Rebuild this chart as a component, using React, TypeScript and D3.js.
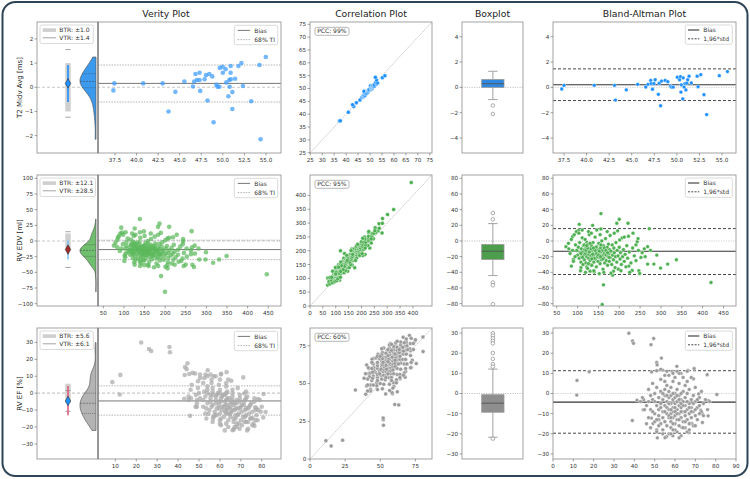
import React from "react";
import * as d3 from "d3";

const titles = ["Verity Plot", "Correlation Plot", "Boxplot", "Bland-Altman Plot"];
const rowLabels = ["T2 Midv Avg [ms]", "RV EDV [ml]", "RV EF [%]"];

// [mean, difference] pairs
const t2Pairs: [number, number][] = [
  [37.25, -0.13], [37.5, 0.16], [40.85, 0.16], [43.1, 0.16], [43.2, -1.0], [44.4, -0.19], [45.66, 0.24],
  [46.55, 0.03], [46.8, 0.24], [47.1, 0.55], [47.15, 0.3], [47.3, -0.15], [47.45, 0.3], [47.6, 0.6],
  [47.95, -0.55], [48.05, 0.33], [48.2, -1.45], [48.3, 0.5], [48.7, 0.55], [49.0, 0.45], [49.3, 0.1],
  [49.4, 0.02], [49.6, 0.02], [50.05, 0.8], [50.3, 0.6], [50.4, 0.85], [50.45, -0.37], [50.5, 0.2],
  [50.65, -0.9], [50.7, 0.75], [50.8, 0.02], [50.9, 0.3], [51.0, -0.2], [51.1, 0.33], [51.2, 0.6],
  [51.35, 0.88], [51.6, 0.35], [52.25, 0.88], [52.35, 0.05], [52.65, 1.0], [53.0, -0.58], [53.3, -2.15],
  [54.7, 0.92], [55.6, 1.25],
];

const edvPairs: [number, number][] = [
  [156, 35], [200, 27.7], [221, 22.6], [194, 22.6], [104, 21.3], [156, 15.3], [272, 15.7], [136, 20],
  [102, 13.6], [88, 5.5], [72, -7.3], [79, -10], [85, -32], [122, -1.7], [162, -56], [159, -81],
  [420, -53], [337, -24], [316, -29.5], [299, -34.6], [283, -29.5], [268, -29.5], [268, -7.3], [260, -10],
  [247, -38], [249, -41.5], [231, -37.6], [223, -32], [184, -43.6], [186, -38.5], [122, -33], [90, -23.5],
  [108, -34], [130, -38.5], [140, -39.7], [152, -41.8], [132, -30.4], [243, -0.9], [245, 3], [222, 6], [201, 1.3],
  [95, -5], [98, -12], [100, -18], [102, -8], [104, -22], [105, -2], [106, -15], [108, -27], [109, -10],
  [110, -20], [111, 4], [112, -14], [113, -30], [114, -6], [115, -18], [116, -24], [117, -11], [118, 2],
  [119, -16], [120, -28], [121, -8], [122, -20], [123, -13], [124, -35], [125, -4], [126, -22], [127, -17],
  [128, 8], [129, -10], [130, -25], [131, -14], [132, -19], [133, -6], [134, -31], [135, -12], [136, -21],
  [137, -2], [138, -16], [139, -27], [140, -9], [141, -18], [142, 5], [143, -23], [144, -13], [145, -33],
  [146, -7], [147, -19], [148, -15], [149, -26], [150, -11], [151, -3], [152, -21], [153, -17], [154, -29],
  [155, -9], [156, -14], [157, -24], [158, 0], [159, -19], [160, -12], [161, -36], [162, -6], [163, -22],
  [164, -16], [165, -28], [166, -10], [167, 3], [168, -18], [169, -25], [170, -14], [171, -8], [172, -31],
  [173, -20], [174, -4], [175, -16], [176, -26], [177, -11], [178, 7], [179, -21], [180, -13], [182, -30],
  [183, -5], [184, -18], [186, -24], [187, -9], [188, -15], [190, -34], [191, -20], [192, -2], [194, -27],
  [195, -12], [197, -19], [198, -36], [200, -8], [202, -23], [203, -15], [205, -30], [207, 4], [208, -20],
  [210, -11], [212, -26], [214, -17], [216, -33], [218, -6], [220, -22], [224, -14], [228, -28], [232, -9],
  [236, -19], [240, -25], [246, -12], [252, -21],
  [78, -3], [82, -16], [85, 2], [88, -12], [90, -26], [92, 8], [94, -20], [97, 12], [103, 10], [107, -38],
  [111, 14], [119, -40], [126, 12], [133, 10], [139, -38], [146, 14], [154, 8], [163, -40], [171, 12],
  [180, -41], [188, 10], [196, 13], [204, -38], [212, 5], [225, -40], [233, 10], [240, -5], [255, -15],
  [262, -20], [275, -12], [290, -18],
  [128, -14], [132, -10], [136, -17], [140, -22], [144, -8], [148, -20], [152, -13], [156, -5], [160, -23],
  [164, -9], [168, -12], [172, -15], [176, -21], [120, -12], [124, -9], [116, -5], [112, -21], [108, -16],
  [145, -16], [150, -18], [155, -20], [142, -12], [138, -9], [134, -23], [130, -3], [126, -29], [122, -6],
];

const efPairs: [number, number][] = [
  [37.3, 29.9], [39.1, 26.1], [39.6, 24.9], [48.2, 24.2], [49.5, 27.3], [11.8, 6.5], [11.7, -0.8], [17.8, 10.8],
  [39.0, -13.4], [41.3, -3.3], [44.6, -3.1], [44.3, -8.1], [53.3, 17.6], [51.0, 15.4], [51.2, 14.2], [51.0, 11.3],
  [48.5, 10.7], [53.9, 11.6], [58.6, 11], [60.9, 13.5], [66.3, 11.5], [69.1, 7.3], [69.4, 12.4], [75.8, 9.3],
  [80.6, -0.5], [76.5, -3.5], [71.6, -0.2], [72.7, -8.3], [73.4, -10], [73.5, -14.4], [76.3, -11.1], [68.3, -14.8],
  [67.4, -14.8], [58.9, -21], [55.9, -21.4], [55.1, -21.9], [51.3, -22], [51.0, -18], [49.2, -14.9], [48.4, -12.2],
  [63.3, -16.8], [66.8, -19.4],
  [46, -6], [47, -12], [47, 2], [48, -8], [48, -17], [49, -3], [49, 5], [50, -10], [50, -14], [50, 0], [51, -6],
  [51, -19], [51, 3], [52, -11], [52, -2], [52, -8], [53, -15], [53, 1], [53, -5], [53, 7], [54, -12], [54, -3],
  [54, -9], [54, -18], [55, -6], [55, 2], [55, -14], [55, -1], [55, 9], [56, -10], [56, -4], [56, -16], [56, -7],
  [56, 4], [57, -12], [57, -2], [57, -20], [57, -8], [57, 1], [58, -5], [58, -14], [58, -10], [58, 3], [58, -1],
  [58, -17], [59, -7], [59, -3], [59, -12], [59, 6], [59, -9], [60, -5], [60, -15], [60, 0], [60, -11], [60, -2],
  [60, 8], [61, -8], [61, -19], [61, -4], [61, -13], [61, 2], [62, -6], [62, -10], [62, -1], [62, -16], [62, 5],
  [63, -3], [63, -12], [63, -7], [63, -21], [63, 10], [64, -9], [64, -4], [64, -14], [64, 1], [65, -6], [65, -11],
  [65, -2], [65, -17], [65, 4], [66, -8], [66, -13], [66, 0], [66, 6], [67, -5], [67, -10], [67, -15], [67, 2],
  [68, -7], [68, -3], [68, -12], [68, 8], [69, -9], [69, -1], [69, -16], [70, -4], [70, -11], [70, 3], [71, -7],
  [71, -13], [72, -2], [72, -6], [73, -9], [73, 1], [74, -5], [74, -11], [75, -3], [76, -8], [77, -4],
  [50, -4], [52, -13], [54, 0], [55, -9], [56, -1], [57, -5], [58, -8], [59, -15], [59, 0], [60, -7], [61, -1],
  [61, -10], [62, -3], [62, -13], [63, 0], [63, -9], [64, -6], [64, -17], [65, -9], [66, -4], [66, -19], [67, -7],
  [68, -9], [69, -5], [70, -8], [71, -3], [72, -10], [57, -11], [58, -20], [60, -18], [53, -7], [51, -13], [49, -9],
  [48, -1], [46, -15], [47, -4], [45, -8], [44, -2], [43, -4], [57, 9], [62, 10], [64, 8], [66, 11], [59, 10],
  [55, 6], [61, 11], [53, 12], [56, 11], [65, -14], [67, -18], [70, -16], [62, -22], [59, -18], [54, -20],
  [52, -16], [58, -12], [60, -9], [63, -5],
];

const pairsByRow = [t2Pairs, edvPairs, efPairs];

// summary statistics
const verityBias = [0.16, -13.7, -4.6];
const tiLow = [-0.61, -29.7, -13.0];
const tiHigh = [0.92, 1.3, 4.3];
const btrValues = [1.0, 12.1, 5.6];
const vtrValues = [1.4, 28.5, 6.1];
const pccValues = [99, 95, 60];
const boxQ1 = [0.0, -23.7, -9.3];
const boxMedian = [0.29, -13.1, -4.8];
const boxQ3 = [0.62, -4.4, -0.6];
const whiskerLow = [-0.96, -44.1, -21.7];
const whiskerHigh = [1.27, 22.2, 12.1];
const boxOutliers = [
  [-1.43, -2.1],
  [35.7, 27.7, -53, -56.5, -80.7],
  [29.9, 28.7, 27.4, 26.1, 24.9, 20.1, 17.2, 14.6, 13.3, -22.4],
];
const baBias = [0.21, -13.2, -4.3];
const baUpper = [1.46, 15.8, 11.3];
const baLower = [-1.04, -42.8, -19.7];

// tick labels
const leftYTicks = [
  [-2, -1, 0, 1, 2],
  [-100, -75, -50, -25, 0, 25, 50, 75, 100],
  [-30, -20, -10, 0, 10, 20, 30],
];
const verityXTicks = [
  [37.5, 40, 42.5, 45, 47.5, 50, 52.5, 55],
  [50, 100, 150, 200, 250, 300, 350, 400, 450],
  [10, 20, 30, 40, 50, 60, 70, 80],
];
const corrTicks = [
  [25, 30, 35, 40, 45, 50, 55, 60, 65, 70, 75],
  [0, 50, 100, 150, 200, 250, 300, 350, 400],
  [0, 25, 50, 75],
];
const boxYTicks = [
  [-4, -2, 0, 2, 4],
  [-80, -60, -40, -20, 0, 20, 40, 60, 80],
  [-30, -20, -10, 0, 10, 20, 30],
];
const baXTicks = [
  [37.5, 40, 42.5, 45, 47.5, 50, 52.5, 55],
  [50, 100, 150, 200, 250, 300, 350, 400, 450],
  [0, 10, 20, 30, 40, 50, 60, 70, 80, 90],
];
const xTickFormats = [".1f", "d", "d"];

// axis ranges
const leftDomains = [[-2.72, 2.7], [-103.7, 105.3], [-38.9, 38.5]];
const verityDomains = [[35.53, 56.74], [37, 481], [1.7, 89.2]];
const corrDomains = [[24.9, 75.9], [0, 474], [0, 86.8]];
const boxDomains = [[-5.18, 5.16], [-83, 84.2], [-32.5, 32.5]];
const baDomains = [[36.28, 56.55], [41, 480], [0, 90]];

// colours
const pointColors = ["#1e90ff", "#4caf50", "#9a9a9a"];
const verityColors = ["#3d9cff", "#5cb85c", "#aaaaaa"];
const boxColors = ["#2f88e0", "#4c9e4c", "#8e8e8e"];
const violinColors = ["#3b99ee", "#6fbf6f", "#b3b3b3"];
const tiLineColors = ["#1e90ff", "#84c2f2", "#e25d7d"];
const markerColors = ["#1e90ff", "#a52a2a", "#1e90ff"];

const FONT = "DejaVu Sans, Verdana, sans-serif";
const ROW_TOP = [22, 175, 328];
const PH = 131;
const COL = { left: [37, 98], ver: [98, 281], corr: [310, 432], box: [462, 523], ba: [553, 736] };
const TICK_FS = 5.6;
const AX = "#999";

const fmtNum = (f: string) => (v: number) => d3.format(f)(v).replace("-", "\u2212");

function YTicks({ scale, ticks, x, fmt }: any) {
  return (
    <g>
      {ticks.map((t: number) => (
        <g key={t}>
          <line x1={x - 2.5} x2={x} y1={scale(t)} y2={scale(t)} stroke="#666" strokeWidth={0.6} />
          <text x={x - 3.8} y={scale(t)} dy="0.35em" textAnchor="end" fontSize={TICK_FS} fill="#333" fontFamily={FONT}>
            {fmt(t)}
          </text>
        </g>
      ))}
    </g>
  );
}

function XTicks({ scale, ticks, y, fmt }: any) {
  return (
    <g>
      {ticks.map((t: number) => (
        <g key={t}>
          <line x1={scale(t)} x2={scale(t)} y1={y} y2={y + 2.5} stroke="#666" strokeWidth={0.6} />
          <text x={scale(t)} y={y + 9} textAnchor="middle" fontSize={TICK_FS} fill="#333" fontFamily={FONT}>
            {fmt(t)}
          </text>
        </g>
      ))}
    </g>
  );
}

function Row({ i }: { i: number }) {
  const top = ROW_TOP[i];
  const bottom = top + PH;
  const pts = pairsByRow[i];
  const diffs = pts.map((p) => p[1]);
  const fx = fmtNum(xTickFormats[i]);
  const fy = fmtNum("d");

  const yL = d3.scaleLinear().domain(leftDomains[i]).range([bottom, top]);
  const xV = d3.scaleLinear().domain(verityDomains[i]).range(COL.ver);
  const xC = d3.scaleLinear().domain(corrDomains[i]).range(COL.corr);
  const yC = d3.scaleLinear().domain(corrDomains[i]).range([bottom, top]);
  const yB = d3.scaleLinear().domain(boxDomains[i]).range([bottom, top]);
  const xB = d3.scaleLinear().domain(baDomains[i]).range(COL.ba);

  // KDE for half violin
  const sorted = diffs.slice().sort(d3.ascending);
  const n = sorted.length;
  const sd = d3.deviation(sorted) || 1;
  const bw = sd * Math.pow(n, -0.2);
  const lo = sorted[0], hi = sorted[n - 1];
  const dens = (y: number) => d3.mean(sorted, (d) => Math.exp(-0.5 * ((y - d) / bw) ** 2)) as number;
  const grid = d3.range(121).map((k) => lo + ((hi - lo) * k) / 120);
  const dvals = grid.map((y) => ({ y, d: dens(y) }));
  const maxD = d3.max(dvals, (d) => d.d) as number;
  const base = 96, vw = 16;
  const vx = (d: number) => base - (d / maxD) * vw;
  const violinPath = d3
    .area<any>()
    .y((d) => yL(d.y))
    .x0(base)
    .x1((d) => vx(d.d))
    .curve(d3.curveBasis)(dvals) as string;
  const quarts = [0.25, 0.5, 0.75].map((q) => d3.quantile(sorted, q) as number);

  const ex = 68;
  const vb = verityBias[i];
  const diamond = d3.symbol(d3.symbolDiamond, 26)() as string;

  const boxX0 = 481.7, boxX1 = 504, boxC = (boxX0 + boxX1) / 2;

  const legendW = 53.3 + Math.max(0, `VTR: \u00b1${vtrValues[i]}`.length - 9) * 2.2;

  const clip = (k: string) => `url(#clip-${i}-${k})`;

  return (
    <g>
      <defs>
        <clipPath id={`clip-${i}-left`}><rect x={COL.left[0]} y={top} width={COL.ver[1] - COL.left[0]} height={PH} /></clipPath>
        <clipPath id={`clip-${i}-corr`}><rect x={COL.corr[0]} y={top} width={COL.corr[1] - COL.corr[0]} height={PH} /></clipPath>
        <clipPath id={`clip-${i}-box`}><rect x={COL.box[0]} y={top} width={COL.box[1] - COL.box[0]} height={PH} /></clipPath>
        <clipPath id={`clip-${i}-ba`}><rect x={COL.ba[0]} y={top} width={COL.ba[1] - COL.ba[0]} height={PH} /></clipPath>
      </defs>

      {/* y label */}
      <text
        transform={`translate(20,${top + PH / 2}) rotate(-90)`}
        textAnchor="middle"
        dy="0.35em"
        fontSize={7}
        fill="#222"
        fontFamily={FONT}
      >
        {rowLabels[i]}
      </text>

      {/* ---- left panel + verity ---- */}
      <g clipPath={clip("left")}>
        <line x1={COL.left[0]} x2={COL.ver[1]} y1={yL(0)} y2={yL(0)} stroke="#c8c8c8" strokeWidth={1.1} strokeDasharray="3,2" />
        {/* BTR bar */}
        <rect x={ex - 2.7} width={5.4} y={yL(btrValues[i])} height={yL(-btrValues[i]) - yL(btrValues[i])} fill="#cfcfcf" />
        {/* VTR caps */}
        {[vb + vtrValues[i], vb - vtrValues[i]].map((v, k) => (
          <line key={k} x1={ex - 2.6} x2={ex + 2.6} y1={yL(v)} y2={yL(v)} stroke="#9a9a9a" strokeWidth={0.9} />
        ))}
        {/* TI line */}
        <line x1={ex} x2={ex} y1={yL(tiHigh[i])} y2={yL(tiLow[i])} stroke={tiLineColors[i]} strokeWidth={1.6} />
        <path d={diamond} transform={`translate(${ex},${yL(vb)})`} fill={markerColors[i]} stroke="#333" strokeWidth={0.6} />
        {/* violin */}
        <path d={violinPath} fill={violinColors[i]} stroke="#555" strokeWidth={0.7} />
        {quarts.map((q, k) => (
          <line
            key={k}
            x1={vx(dens(q))}
            x2={base}
            y1={yL(q)}
            y2={yL(q)}
            stroke="#444"
            strokeWidth={0.5}
            strokeDasharray={k === 1 ? "2,1" : "1,1"}
          />
        ))}

        {/* verity lines */}
        <line x1={COL.ver[0]} x2={COL.ver[1]} y1={yL(tiHigh[i])} y2={yL(tiHigh[i])} stroke="#aaa" strokeWidth={0.9} strokeDasharray="1.5,1.2" />
        <line x1={COL.ver[0]} x2={COL.ver[1]} y1={yL(tiLow[i])} y2={yL(tiLow[i])} stroke="#aaa" strokeWidth={0.9} strokeDasharray="1.5,1.2" />
        <line x1={COL.ver[0]} x2={COL.ver[1]} y1={yL(vb)} y2={yL(vb)} stroke="#777" strokeWidth={1} />
        {pts.map((p, k) => (
          <circle key={k} cx={xV(p[0] - p[1] / 2)} cy={yL(p[1])} r={2.3} fill={verityColors[i]} fillOpacity={0.72} />
        ))}
      </g>
      <rect x={COL.left[0]} y={top} width={COL.left[1] - COL.left[0]} height={PH} fill="none" stroke={AX} strokeWidth={0.9} />
      <rect x={COL.ver[0]} y={top} width={COL.ver[1] - COL.ver[0]} height={PH} fill="none" stroke={AX} strokeWidth={0.9} />
      <line x1={COL.ver[0]} x2={COL.ver[0]} y1={top} y2={bottom} stroke="#777" strokeWidth={1} />
      <YTicks scale={yL} ticks={leftYTicks[i]} x={COL.left[0]} fmt={fy} />
      <XTicks scale={xV} ticks={verityXTicks[i]} y={bottom} fmt={fx} />

      {/* left legend */}
      <g fontFamily={FONT} fontSize={6} fill="#333">
        <rect x={40} y={top + 3} width={legendW} height={18.5} rx={1.5} fill="white" fillOpacity={0.85} stroke="#ccc" strokeWidth={0.7} />
        <rect x={42.7} y={top + 6.3} width={13.3} height={3.6} fill="#cfcfcf" />
        <text x={59.3} y={top + 8.1} dy="0.35em">{`BTR: \u00b1${btrValues[i].toFixed(1)}`}</text>
        <line x1={42.7} x2={56} y1={top + 15.8} y2={top + 15.8} stroke="#9a9a9a" strokeWidth={0.9} />
        <text x={59.3} y={top + 15.8} dy="0.35em">{`VTR: \u00b1${vtrValues[i].toFixed(1)}`}</text>
      </g>

      {/* verity legend */}
      <g fontFamily={FONT} fontSize={6} fill="#333">
        <rect x={234.3} y={top + 3.3} width={43.4} height={19.4} rx={1.5} fill="white" fillOpacity={0.85} stroke="#ccc" strokeWidth={0.7} />
        <line x1={237.7} x2={250} y1={top + 8.4} y2={top + 8.4} stroke="#777" strokeWidth={1} />
        <text x={254.3} y={top + 8.4} dy="0.35em">Bias</text>
        <line x1={237.7} x2={250} y1={top + 17.6} y2={top + 17.6} stroke="#aaa" strokeWidth={0.9} strokeDasharray="1.5,1.2" />
        <text x={254.3} y={top + 17.6} dy="0.35em">68% TI</text>
      </g>

      {/* ---- correlation ---- */}
      <g clipPath={clip("corr")}>
        <line
          x1={xC(corrDomains[i][0])}
          y1={yC(corrDomains[i][0])}
          x2={xC(corrDomains[i][1])}
          y2={yC(corrDomains[i][1])}
          stroke="#aaa"
          strokeWidth={0.6}
          strokeDasharray="2,0.8"
        />
        {pts.map((p, k) => (
          <circle key={k} cx={xC(p[0] + p[1] / 2)} cy={yC(p[0] - p[1] / 2)} r={2} fill={pointColors[i]} stroke="white" strokeWidth={0.4} />
        ))}
      </g>
      <rect x={COL.corr[0]} y={top} width={COL.corr[1] - COL.corr[0]} height={PH} fill="none" stroke={AX} strokeWidth={0.9} />
      <YTicks scale={yC} ticks={corrTicks[i]} x={COL.corr[0]} fmt={fy} />
      <XTicks scale={xC} ticks={corrTicks[i]} y={bottom} fmt={fy} />
      <g fontFamily={FONT} fontSize={6} fill="#333">
        <rect x={315} y={top + 5.3} width={34} height={8} rx={1.8} fill="white" stroke="#999" strokeWidth={0.7} />
        <text x={317.2} y={top + 9.3} dy="0.35em">{`PCC: ${pccValues[i]}%`}</text>
      </g>

      {/* ---- boxplot ---- */}
      <g clipPath={clip("box")}>
        <line x1={COL.box[0]} x2={COL.box[1]} y1={yB(0)} y2={yB(0)} stroke="#bbb" strokeWidth={0.9} strokeDasharray="1.2,1.2" />
        <line x1={boxC} x2={boxC} y1={yB(whiskerHigh[i])} y2={yB(boxQ3[i])} stroke="#aaa" strokeWidth={1.1} />
        <line x1={boxC} x2={boxC} y1={yB(boxQ1[i])} y2={yB(whiskerLow[i])} stroke="#aaa" strokeWidth={1.1} />
        <line x1={boxC - 4.7} x2={boxC + 4.7} y1={yB(whiskerHigh[i])} y2={yB(whiskerHigh[i])} stroke="#aaa" strokeWidth={1.1} />
        <line x1={boxC - 4.7} x2={boxC + 4.7} y1={yB(whiskerLow[i])} y2={yB(whiskerLow[i])} stroke="#aaa" strokeWidth={1.1} />
        <rect x={boxX0} width={boxX1 - boxX0} y={yB(boxQ3[i])} height={yB(boxQ1[i]) - yB(boxQ3[i])} fill={boxColors[i]} stroke="#999" strokeWidth={0.8} />
        <line x1={boxX0} x2={boxX1} y1={yB(boxMedian[i])} y2={yB(boxMedian[i])} stroke="#555" strokeWidth={0.9} />
        {boxOutliers[i].map((o, k) => (
          <circle key={k} cx={boxC} cy={yB(o)} r={1.8} fill="white" stroke="#777" strokeWidth={0.6} />
        ))}
      </g>
      <rect x={COL.box[0]} y={top} width={COL.box[1] - COL.box[0]} height={PH} fill="none" stroke={AX} strokeWidth={0.9} />
      <YTicks scale={yB} ticks={boxYTicks[i]} x={COL.box[0]} fmt={fy} />

      {/* ---- Bland-Altman ---- */}
      <g clipPath={clip("ba")}>
        <line x1={COL.ba[0]} x2={COL.ba[1]} y1={yB(0)} y2={yB(0)} stroke="#ccc" strokeWidth={0.9} strokeDasharray="1.2,1.2" />
        <line x1={COL.ba[0]} x2={COL.ba[1]} y1={yB(baUpper[i])} y2={yB(baUpper[i])} stroke="#333" strokeWidth={0.9} strokeDasharray="3,2" />
        <line x1={COL.ba[0]} x2={COL.ba[1]} y1={yB(baLower[i])} y2={yB(baLower[i])} stroke="#333" strokeWidth={0.9} strokeDasharray="3,2" />
        <line x1={COL.ba[0]} x2={COL.ba[1]} y1={yB(baBias[i])} y2={yB(baBias[i])} stroke="#333" strokeWidth={1.1} />
        {pts.map((p, k) => (
          <circle key={k} cx={xB(p[0])} cy={yB(p[1])} r={1.9} fill={pointColors[i]} stroke="white" strokeWidth={0.4} />
        ))}
      </g>
      <rect x={COL.ba[0]} y={top} width={COL.ba[1] - COL.ba[0]} height={PH} fill="none" stroke={AX} strokeWidth={0.9} />
      <YTicks scale={yB} ticks={boxYTicks[i]} x={COL.ba[0]} fmt={fy} />
      <XTicks scale={xB} ticks={baXTicks[i]} y={bottom} fmt={fx} />
      <g fontFamily={FONT} fontSize={6} fill="#333">
        <rect x={685.3} y={top + 3} width={47} height={19.3} rx={1.5} fill="white" fillOpacity={0.85} stroke="#ccc" strokeWidth={0.7} />
        <line x1={688} x2={699.3} y1={top + 8} y2={top + 8} stroke="#333" strokeWidth={1.1} />
        <text x={703.3} y={top + 8} dy="0.35em">Bias</text>
        <line x1={688} x2={699.3} y1={top + 16.8} y2={top + 16.8} stroke="#333" strokeWidth={0.9} strokeDasharray="2,1.3" />
        <text x={703.3} y={top + 16.8} dy="0.35em">1,96*std</text>
      </g>
    </g>
  );
}

export default function App() {
  const titleX = [166, 371, 492.5, 644.5];
  return (
    <svg
      width={750}
      height={479}
      viewBox="0 0 750 479"
      style={{ position: "absolute", left: 0, top: 0, background: "white" }}
    >
      <rect x={0} y={0} width={750} height={479} fill="white" />
      <rect x={2.5} y={2} width={745} height={474} rx={13} fill="none" stroke="#2e4457" strokeWidth={2} />
      {titles.map((t, k) => (
        <text key={t} x={titleX[k]} y={17} textAnchor="middle" fontSize={9.3} fill="#222" fontFamily={FONT}>
          {t}
        </text>
      ))}
      {[0, 1, 2].map((i) => (
        <Row key={i} i={i} />
      ))}
    </svg>
  );
}
